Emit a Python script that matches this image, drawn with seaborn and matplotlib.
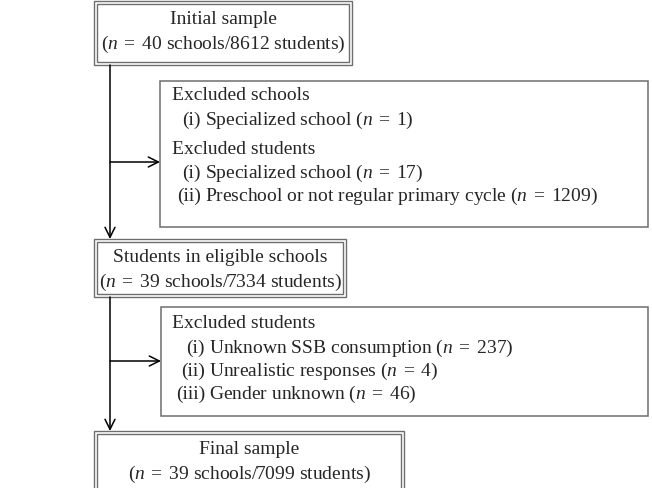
"""Participant flow chart: schools and students retained at each selection step."""

import matplotlib.pyplot as plt
import seaborn as sns
from matplotlib.patches import Rectangle

# === Data === #
stage_titles = ["Initial sample", "Students in eligible schools", "Final sample"]
stage_schools = [40, 39, 39]
stage_students = [8612, 7334, 7099]

excl1_headers = ["Excluded schools", "Excluded students"]
excl1_school_items = [("(i)", "Specialized school", 1)]
excl1_student_items = [
    ("(i)", "Specialized school", 17),
    ("(ii)", "Preschool or not regular primary cycle", 1209),
]

excl2_header = "Excluded students"
excl2_items = [
    ("(i)", "Unknown SSB consumption", 237),
    ("(ii)", "Unrealistic responses", 4),
    ("(iii)", "Gender unknown", 46),
]

sns.set_theme(style="white")
plt.rcParams["font.family"] = ["Liberation Serif", "DejaVu Serif"]
plt.rcParams["mathtext.fontset"] = "custom"
plt.rcParams["mathtext.rm"] = "Liberation Serif"
plt.rcParams["mathtext.it"] = "Liberation Serif:italic"

W, H = 652, 489
fig = plt.figure(figsize=(W / 100, H / 100), dpi=100)
ax = fig.add_axes([0, 0, 1, 1])
ax.set_xlim(0, W)
ax.set_ylim(H, 0)
ax.axis("off")

LINE = "#6e6e6e"
FS = 14.0


def n_eq(n):
    # italic n with roomy spacing around "="
    return f"$n\\;=\\;{n}$"


def double_box(x0, y0, x1, y1, gap=2.6):
    ax.add_patch(Rectangle((x0, y0), x1 - x0, y1 - y0, fill=False, ec=LINE, lw=1.0))
    ax.add_patch(
        Rectangle((x0 + gap, y0 + gap), x1 - x0 - 2 * gap, y1 - y0 - 2 * gap,
                  fill=False, ec=LINE, lw=1.0)
    )


def single_box(x0, y0, x1, y1):
    ax.add_patch(Rectangle((x0, y0), x1 - x0, y1 - y0, fill=False, ec=LINE, lw=1.1))


def arrow(x0, y0, x1, y1):
    ax.annotate(
        "", xy=(x1, y1), xytext=(x0, y0),
        arrowprops=dict(arrowstyle="->", color="black", lw=1.1,
                        mutation_scale=18, shrinkA=0, shrinkB=0),
    )


def item(x_label_end, y, num, label, n):
    # numbering is right-aligned so the item texts line up
    ax.text(x_label_end, y, num, ha="right", va="center", fontsize=FS)
    ax.text(x_label_end + 4, y, f"{label} ({n_eq(n)})", ha="left", va="center", fontsize=FS)


# === Main stage boxes === #
stage_boxes = [(94, 2, 352, 66), (94, 240, 346, 298), (94, 432, 404, 495)]
for (x0, y0, x1, y1), title, sch, stu in zip(
    stage_boxes, stage_titles, stage_schools, stage_students
):
    double_box(x0, y0, x1, y1)
    cx = (x0 + x1) / 2
    ax.text(cx, y0 + 17, title, ha="center", va="center", fontsize=FS)
    ax.text(cx, y0 + 42, f"({n_eq(sch)} schools/{stu} students)",
            ha="center", va="center", fontsize=FS)

# === Vertical flow === #
arrow(110, 66, 110, 240)
arrow(110, 298, 110, 432)

# === Exclusion box 1 === #
single_box(160, 82, 648, 228)
arrow(110, 163, 160, 163)
ax.text(172, 96, excl1_headers[0], ha="left", va="center", fontsize=FS)
for i, (num, label, n) in enumerate(excl1_school_items):
    item(201, 120 + i * 23, num, label, n)
ax.text(172, 149, excl1_headers[1], ha="left", va="center", fontsize=FS)
for i, (num, label, n) in enumerate(excl1_student_items):
    item(201, 173 + i * 23, num, label, n)

# === Exclusion box 2 === #
single_box(161, 308, 648, 417)
arrow(110, 362, 161, 362)
ax.text(172, 324, excl2_header, ha="left", va="center", fontsize=FS)
for i, (num, label, n) in enumerate(excl2_items):
    item(205, 348 + i * 23, num, label, n)

fig.savefig("out.png", dpi=100)
plt.close(fig)
